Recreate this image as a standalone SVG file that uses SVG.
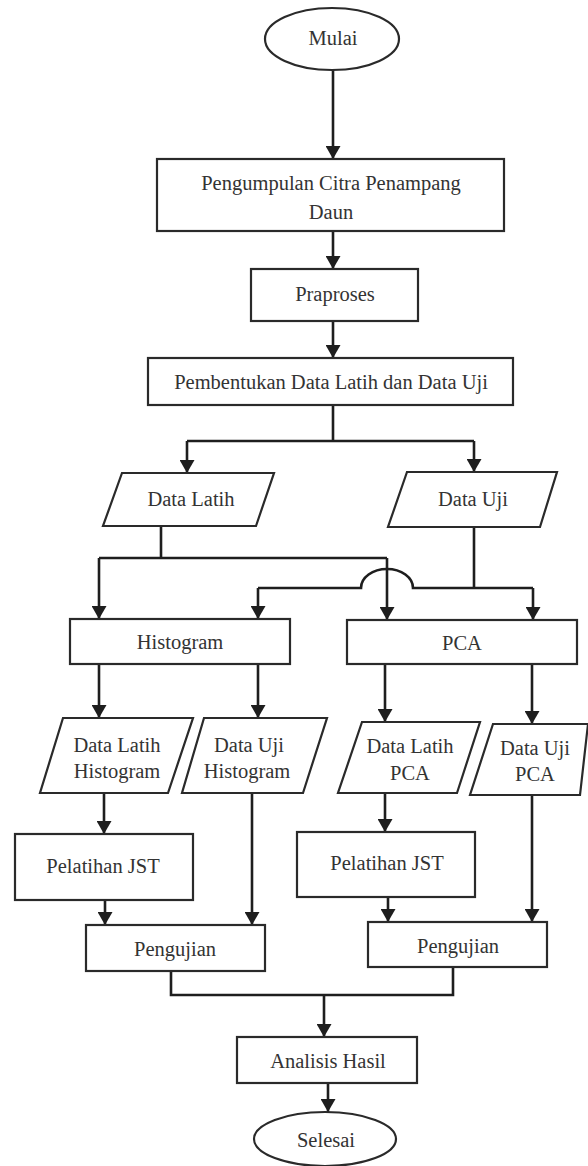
<svg xmlns="http://www.w3.org/2000/svg" width="588" height="1166" viewBox="0 0 588 1166">
<defs>
<marker id="arr" markerUnits="userSpaceOnUse" viewBox="0 0 13 15" markerWidth="13" markerHeight="15" refX="13" refY="7.5" orient="auto">
<path d="M0,0 L13,7.5 L0,15 z" fill="#1e1e1e"/>
</marker>
<style>
.shape{fill:#fff;stroke:#2a2a2a;stroke-width:2.2}
.t{font-family:'Liberation Serif','DejaVu Serif',serif;font-size:20.5px;fill:#333;text-anchor:middle}
.c{fill:none;stroke:#1e1e1e;stroke-width:2.6}
.a{marker-end:url(#arr)}
</style>
</defs>
<rect width="588" height="1166" fill="#fff"/>
<g id="connectors">
<path class="c a" d="M333,70 V159"/>
<path class="c a" d="M333,231 V269"/>
<path class="c a" d="M333,321 V358"/>
<path class="c" d="M333,405 V441 M187,441 H474"/>
<path class="c a" d="M187,441 V473"/>
<path class="c a" d="M474,441 V472"/>
<path class="c" d="M161,526 V558 M99,558 H387"/>
<path class="c a" d="M99,558 V619"/>
<path class="c a" d="M387,558 V620"/>
<path class="c" d="M474,526 V588 M258,588 H361 A26,19 0 0 1 413,588 H533"/>
<path class="c a" d="M258,588 V619"/>
<path class="c a" d="M533,588 V620"/>
<path class="c a" d="M99,664 V718"/>
<path class="c a" d="M258,664 V718"/>
<path class="c a" d="M385,664 V722"/>
<path class="c a" d="M532,664 V724"/>
<path class="c a" d="M104,793 V834"/>
<path class="c a" d="M105,900 V925"/>
<path class="c a" d="M252,793 V925"/>
<path class="c a" d="M385,793 V832"/>
<path class="c a" d="M388,897 V922"/>
<path class="c a" d="M532,795 V922"/>
<path class="c" d="M171,971 V995 H453 V967"/>
<path class="c a" d="M324,995 V1037"/>
<path class="c a" d="M328,1083 V1112"/>
</g>
<g id="mulai">
<ellipse class="shape" cx="332" cy="39" rx="67" ry="31"/>
<text class="t" x="333" y="45" font-family="Liberation Serif">Mulai</text>
</g>
<g id="pengumpulan">
<rect class="shape" x="157" y="159" width="347" height="72"/>
<text class="t" x="331" y="190">Pengumpulan Citra Penampang</text>
<text class="t" x="331" y="219">Daun</text>
</g>
<g id="praproses">
<rect class="shape" x="251" y="269" width="167" height="52"/>
<text class="t" x="335" y="301">Praproses</text>
</g>
<g id="pembentukan">
<rect class="shape" x="148" y="358" width="365" height="47"/>
<text class="t" x="331" y="389">Pembentukan Data Latih dan Data Uji</text>
</g>
<g id="data-latih">
<polygon class="shape" points="122,473 274,473 256,526 103,526"/>
<text class="t" x="191" y="506">Data Latih</text>
</g>
<g id="data-uji">
<polygon class="shape" points="407,472 557,472 540,527 388,527"/>
<text class="t" x="473" y="506">Data Uji</text>
</g>
<g id="histogram">
<rect class="shape" x="70" y="619" width="220" height="45"/>
<text class="t" x="180" y="649">Histogram</text>
</g>
<g id="pca">
<rect class="shape" x="347" y="620" width="230" height="44"/>
<text class="t" x="462" y="650">PCA</text>
</g>
<g id="data-latih-histogram">
<polygon class="shape" points="63,718 193,718 168,793 40,793"/>
<text class="t" x="117" y="752">Data Latih</text>
<text class="t" x="117" y="778">Histogram</text>
</g>
<g id="data-uji-histogram">
<polygon class="shape" points="204,718 327,718 303,793 182,793"/>
<text class="t" x="249" y="752">Data Uji</text>
<text class="t" x="247" y="778">Histogram</text>
</g>
<g id="data-latih-pca">
<polygon class="shape" points="362,722 480,722 457,793 338,793"/>
<text class="t" x="410" y="753">Data Latih</text>
<text class="t" x="410" y="780">PCA</text>
</g>
<g id="data-uji-pca">
<polygon class="shape" points="493,724 588,724 580,795 470,795"/>
<text class="t" x="535" y="755">Data Uji</text>
<text class="t" x="535" y="781">PCA</text>
</g>
<g id="pelatihan-jst-1">
<rect class="shape" x="15" y="834" width="178" height="66"/>
<text class="t" x="103" y="873">Pelatihan JST</text>
</g>
<g id="pengujian-1">
<rect class="shape" x="86" y="925" width="179" height="46"/>
<text class="t" x="175" y="956">Pengujian</text>
</g>
<g id="pelatihan-jst-2">
<rect class="shape" x="297" y="832" width="178" height="65"/>
<text class="t" x="387" y="870">Pelatihan JST</text>
</g>
<g id="pengujian-2">
<rect class="shape" x="368" y="922" width="179" height="45"/>
<text class="t" x="458" y="953">Pengujian</text>
</g>
<g id="analisis-hasil">
<rect class="shape" x="237" y="1037" width="180" height="46"/>
<text class="t" x="328" y="1068">Analisis Hasil</text>
</g>
<g id="selesai">
<ellipse class="shape" cx="325" cy="1139" rx="71" ry="27"/>
<text class="t" x="326" y="1147">Selesai</text>
</g>
</svg>
